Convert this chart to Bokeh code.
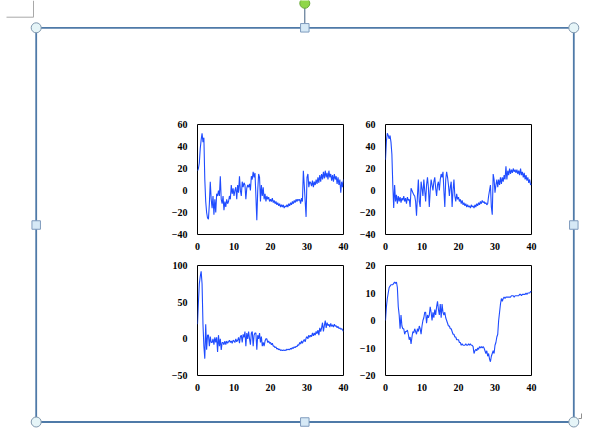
import numpy as np
from bokeh.plotting import figure
from bokeh.models import Range1d, FixedTicker, GridBox
from bokeh.embed import file_html
from bokeh.resources import INLINE

# ---------------- data (4 samples per x unit) ----------------
X_TICKS = [0, 10, 20, 30, 40]
X_MAX = 40

TL_Y_TICKS = [-40, -20, 0, 20, 40, 60]
TR_Y_TICKS = [-40, -20, 0, 20, 40, 60]
BL_Y_TICKS = [-50, 0, 50, 100]
BR_Y_TICKS = [-20, -10, 0, 10, 20]

tl_rows = [
    [18, 20, 25, 38], [46, 52, 44, 48], [10, -10, -20, -25], [-26, -12, 8, -8],
    [-16, -5, -22, -8], [-20, -3, -5, 0], [-5, 13, -8, -12], [-5, -18, -10, -15],
    [-8, -12, -10, -5], [-8, 5, -3, 2], [-5, 0, 3, -8], [5, -2, 13, 0],
    [-5, 8, 3, 7], [5, -8, 2, 5], [3, 6, 0, 13], [10, 17, 12, 16],
    [-5, -27, 0, 15], [12, -10, 5, -5], [3, -8, -3, -10], [-5, -8, -6, -10],
    [-8, -10, -7, -11], [-9, -12, -10, -13], [-11, -14, -12, -15], [-13, -15, -13, -16],
    [-14, -15, -13, -15], [-12, -14, -11, -13], [-10, -12, -9, -11], [-8, -10, -8, -9],
    [-8, -12, -7, -10], [18, 5, -10, -24], [12, 15, 3, 8], [7, 4, 9, 3],
    [8, 5, 10, 6], [12, 7, 14, 8], [15, 10, 17, 11], [18, 12, 16, 10],
    [18, 12, 15, 9], [14, 8, 15, 10], [13, 6, 12, 5], [10, -2, 8, 3],
]
tl_last = 10

tr_rows = [
    [28, 45, 52, 50], [47, 50, 44, 33], [5, -16, 5, -10], [-4, -12, -5, -10],
    [-6, -11, -7, -9], [-5, -10, -7, -12], [-6, -9, -8, -15], [2, 0, -2, -4],
    [-5, -10, -23, -5], [10, -10, -15, 8], [2, -5, 10, 0], [-10, 5, 12, 3],
    [-15, 0, 10, 5], [0, 8, 12, 2], [-5, 5, 8, 0], [10, 15, 12, 17],
    [0, -15, 10, 17], [12, 5, -5, 3], [8, -15, 0, 10], [-5, -10, -3, -8],
    [-6, -10, -8, -12], [-9, -13, -11, -14], [-12, -15, -13, -15], [-14, -16, -13, -15],
    [-14, -16, -13, -15], [-12, -14, -11, -13], [-10, -12, -9, -11], [-10, -12, -11, -13],
    [-12, -5, 0, 5], [-15, -22, 15, 10], [-2, 5, 10, 3], [10, 5, 12, 6],
    [12, 8, 14, 10], [22, 10, 18, 14], [20, 15, 19, 16], [20, 17, 19, 16],
    [19, 15, 18, 14], [20, 14, 17, 12], [16, 10, 14, 9], [12, 7, 10, 5],
]
tr_last = 6

bl_rows = [
    [20, 50, 75, 85], [92, 75, 20, -10], [-27, 20, -15, 5], [5, -10, 3, -5],
    [-5, 0, -8, 2], [-5, 2, -18, 5], [-10, 0, -15, -5], [-5, -8, -3, -8],
    [-3, -6, -4, -2], [-5, -3, -6, -2], [-3, -5, 0, -4], [-2, 2, -6, 3],
    [5, -5, 6, 2], [10, -10, 8, 0], [10, 0, -8, 8], [10, -10, 5, 8],
    [8, -15, 5, 0], [8, -5, 3, -10], [-5, -10, -3, 0], [0, -5, -3, -6],
    [-5, -8, -6, -10], [-10, -12, -11, -14], [-13, -15, -14, -16], [-15, -16, -15, -16],
    [-15, -16, -14, -15], [-14, -15, -13, -14], [-12, -13, -11, -12], [-10, -11, -8, -9],
    [-5, -7, -3, -6], [-3, -1, -4, 1], [3, 0, 5, 2], [5, 3, 8, 4],
    [8, 5, 10, 7], [12, 5, 15, 10], [15, 22, 10, 18], [25, 15, 22, 18],
    [20, 16, 21, 17], [19, 16, 20, 17], [18, 15, 17, 14], [15, 13, 14, 12],
]
bl_last = 10

br_rows = [
    [0, 5, 8, 10], [12, 12.5, 13, 13], [13, 13.5, 14, 13.5], [14, 12, 5, 2],
    [-3, 2, -2, -3], [-3, -5, -4, -4], [-3.5, -5, -7, -6], [-8.5, -6, -4, -4.5],
    [-3, -4, -5, -3], [-4, -2, -3, -5], [-2, 0, 1, 3], [3, -1, 2, 1],
    [2, 5, 3, 0], [3, 1, 4, 2], [5, 7, 4, 2], [6, 1, 6, 3],
    [2, 3, 1, 0], [-1, -2, -2, -3], [-3, -4, -5, -5], [-6, -6, -7, -7],
    [-7, -8, -8, -9], [-8.5, -9, -9, -9], [-8.5, -9, -9, -8.5], [-9, -8.5, -9, -9],
    [-9.5, -12, -11, -10.5], [-11, -10, -10.5, -9.5], [-10, -9.5, -10, -9.5], [-10, -11, -12, -11],
    [-13, -12, -14, -15], [-13, -12, -11, -12], [-9, -8, -6, -5], [0, 3, 6, 8],
    [7, 8, 8.5, 8], [8.5, 8.5, 8.5, 8.5], [8.5, 8.5, 9, 9], [9, 8.5, 9, 9],
    [9, 9, 9, 9.5], [9.5, 9, 9.5, 9.5], [9.5, 9.5, 10, 9.5], [10, 10, 10, 10.5],
]
br_last = 10.5

# ---------------- styling ----------------
LINE_COLOR = "#1f4cff"
FONT = "Liberation Serif"
FIG_W, FIG_H = 184, 134
B_LEFT, B_RIGHT, B_TOP, B_BOTTOM = 30, 8, 6, 18


def series(rows, last):
    y = np.concatenate([np.asarray(rows, dtype=float).ravel(), [last]])
    x = np.linspace(0, X_MAX, len(y))
    return x, y


def panel(rows, last, yticks):
    x, y = series(rows, last)
    p = figure(width=FIG_W, height=FIG_H, output_backend="svg", toolbar_location=None,
               x_range=Range1d(X_TICKS[0], X_TICKS[-1]),
               y_range=Range1d(yticks[0], yticks[-1]),
               min_border_left=B_LEFT, min_border_right=B_RIGHT,
               min_border_top=B_TOP, min_border_bottom=B_BOTTOM)
    p.line(x, y, line_color=LINE_COLOR, line_width=1.1)
    p.xaxis.ticker = FixedTicker(ticks=X_TICKS)
    p.yaxis.ticker = FixedTicker(ticks=yticks)
    p.grid.visible = False
    p.outline_line_color = "black"
    p.outline_line_width = 1
    for ax in (p.xaxis, p.yaxis):
        ax.axis_line_color = None
        ax.major_tick_line_color = None
        ax.minor_tick_line_color = None
        ax.major_label_text_font = FONT
        ax.major_label_text_font_style = "bold"
        ax.major_label_text_font_size = "10px"
        ax.major_label_text_color = "black"
    p.xaxis.major_label_standoff = 2
    p.yaxis.major_label_standoff = 4
    return p


p1 = panel(tl_rows, tl_last, TL_Y_TICKS)
p2 = panel(tr_rows, tr_last, TR_Y_TICKS)
p3 = panel(bl_rows, bl_last, BL_Y_TICKS)
p4 = panel(br_rows, br_last, BR_Y_TICKS)

# ---------------- document-frame decoration (pixel space of the page) ----------------
PAGE_W, PAGE_H = 596, 435
deco = figure(width=PAGE_W, height=PAGE_H, output_backend="svg", toolbar_location=None,
              x_range=Range1d(0, PAGE_W), y_range=Range1d(PAGE_H, 0),
              x_axis_location=None, y_axis_location=None, min_border=0)
deco.grid.visible = False
deco.outline_line_color = None

FR_L, FR_R, FR_T, FR_B = 35.7, 573.3, 27.3, 421.5
FR_MX, FR_MY = 304.3, 224.5
FRAME_COLOR = "#4f7aa8"
deco.quad(left=FR_L, right=FR_R, top=FR_T, bottom=FR_B, fill_color=None,
          line_color=FRAME_COLOR, line_width=1.8)
deco.segment(x0=[FR_MX], y0=[3], x1=[FR_MX], y1=[FR_T], line_color="#3f5f80", line_width=1)
deco.scatter(x=[FR_MX], y=[2.8], marker="circle", size=10,
             fill_color="#8fd64a", line_color="#6aa83a", line_width=1)
deco.scatter(x=[FR_L, FR_R, FR_L, FR_R], y=[FR_T, FR_T, FR_B, FR_B], marker="circle",
             size=10, fill_color="#e6f5f8", line_color="#8198ae", line_width=1)
deco.scatter(x=[FR_MX, FR_MX, FR_L, FR_R], y=[FR_T, FR_B, FR_MY, FR_MY], marker="square",
             size=8.5, fill_color="#d6e9f6", line_color="#7f9bbd", line_width=1)
deco.segment(x0=[33, 6], y0=[0, 16.7], x1=[33, 33], y1=[16.7, 16.7],
             line_color="#a8a8a8", line_width=1)
deco.segment(x0=[581, 578], y0=[413, 418], x1=[581, 581], y1=[418, 418],
             line_color="#909090", line_width=1)

grid = GridBox(children=[(deco, 0, 0, 5, 5), (p1, 1, 1), (p2, 1, 3), (p3, 3, 1), (p4, 3, 3)],
               cols=["167px", "184px", "4px", "184px", "57px"],
               rows=["118px", "134px", "7px", "134px", "42px"],
               spacing=0)

open("out.html", "w").write(file_html(grid, INLINE))
